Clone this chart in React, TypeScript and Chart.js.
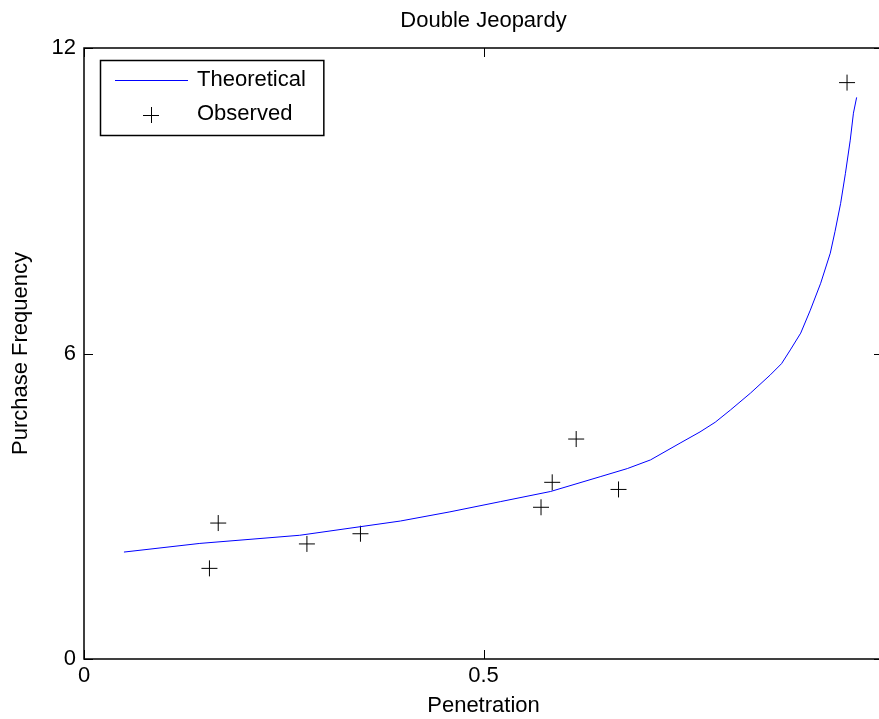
import React, { useEffect, useRef } from "react";
import { Chart, registerables } from "chart.js";

Chart.register(...registerables);

const TITLE = "Double Jeopardy";
const X_LABEL = "Penetration";
const Y_LABEL = "Purchase Frequency";
const SERIES_NAMES = ["Theoretical", "Observed"];

const X_TICKS = [0, 0.5, 1];
const X_TICK_LABELS = ["0", "0.5", ""];
const Y_TICKS = [0, 6, 12];
const Y_TICK_LABELS = ["0", "6", "12"];

const theoreticalX = [0.05, 0.145, 0.27, 0.396, 0.458, 0.521, 0.584, 0.646, 0.68, 0.709, 0.746, 0.771, 0.79, 0.809, 0.834, 0.859, 0.873, 0.884, 0.897, 0.909, 0.922, 0.934, 0.94, 0.947, 0.953, 0.959, 0.963, 0.967];
const theoreticalY = [2.1, 2.27, 2.43, 2.71, 2.89, 3.09, 3.29, 3.58, 3.74, 3.91, 4.24, 4.46, 4.65, 4.89, 5.22, 5.58, 5.8, 6.07, 6.4, 6.85, 7.38, 7.97, 8.4, 8.95, 9.54, 10.19, 10.72, 11.03];

const observedX = [0.157, 0.168, 0.279, 0.346, 0.572, 0.586, 0.616, 0.669, 0.955];
const observedY = [1.78, 2.67, 2.26, 2.46, 2.98, 3.47, 4.32, 3.33, 11.32];

const FONT_FAMILY = "'Liberation Sans', Arial, Helvetica, sans-serif";
const FONT_SIZE = 22;
const CANVAS_W = 900;
const CANVAS_H = 719;
const PAD_RIGHT = 17;

const framePlugin = {
  id: "frame",
  afterDatasetsDraw(chart: any) {
    const { ctx, chartArea: a } = chart;
    const xs = chart.scales.x;
    const ys = chart.scales.y;
    const tl = 9;
    ctx.save();
    ctx.strokeStyle = "#000";
    ctx.lineWidth = 1.5;
    ctx.strokeRect(a.left, a.top, a.right - a.left, a.bottom - a.top);
    ctx.lineWidth = 1;
    ctx.beginPath();
    for (const t of xs.ticks) {
      const px = Math.round(xs.getPixelForValue(t.value)) + 0.5;
      ctx.moveTo(px, a.bottom);
      ctx.lineTo(px, a.bottom - tl);
      ctx.moveTo(px, a.top);
      ctx.lineTo(px, a.top + tl);
    }
    for (const t of ys.ticks) {
      const py = Math.round(ys.getPixelForValue(t.value)) + 0.5;
      ctx.moveTo(a.left, py);
      ctx.lineTo(a.left + tl, py);
      ctx.moveTo(a.right, py);
      ctx.lineTo(a.right - tl, py);
    }
    ctx.stroke();

    // legend
    ctx.font = `${FONT_SIZE}px ${FONT_FAMILY}`;
    const textX = 197;
    const w = Math.max(...SERIES_NAMES.map((n) => ctx.measureText(n).width));
    const bx = 100.5;
    const by = 60.5;
    const bw = textX + w + 18 - bx;
    const bh = 75;
    ctx.fillStyle = "#fff";
    ctx.fillRect(bx, by, bw, bh);
    ctx.strokeStyle = "#000";
    ctx.lineWidth = 1.5;
    ctx.strokeRect(bx, by, bw, bh);
    ctx.strokeStyle = "#0000ff";
    ctx.lineWidth = 1;
    ctx.beginPath();
    ctx.moveTo(115, 80.5);
    ctx.lineTo(188, 80.5);
    ctx.stroke();
    ctx.strokeStyle = "#000";
    ctx.beginPath();
    ctx.moveTo(143, 115.5);
    ctx.lineTo(159, 115.5);
    ctx.moveTo(151.5, 107);
    ctx.lineTo(151.5, 123);
    ctx.stroke();
    ctx.fillStyle = "#000";
    ctx.textBaseline = "middle";
    ctx.textAlign = "left";
    ctx.fillText(SERIES_NAMES[0], textX, 80);
    ctx.fillText(SERIES_NAMES[1], textX, 114);
    ctx.restore();
  },
};

export default function App() {
  const ref = useRef<HTMLCanvasElement | null>(null);

  useEffect(() => {
    if (!ref.current) return;
    Chart.defaults.color = "#000";
    Chart.defaults.font.family = FONT_FAMILY;
    Chart.defaults.font.size = FONT_SIZE;
    const chart = new Chart(ref.current, {
      type: "scatter",
      data: {
        datasets: [
          {
            label: SERIES_NAMES[0],
            data: theoreticalX.map((x, i) => ({ x, y: theoreticalY[i] })),
            showLine: true,
            borderColor: "#0000ff",
            borderWidth: 1,
            pointRadius: 0,
            tension: 0,
          },
          {
            label: SERIES_NAMES[1],
            data: observedX.map((x, i) => ({ x, y: observedY[i] })),
            showLine: false,
            pointStyle: "cross",
            pointRadius: 8,
            borderColor: "#000",
            backgroundColor: "#000",
            borderWidth: 1,
          },
        ],
      },
      options: {
        responsive: false,
        animation: false,
        devicePixelRatio: 1,
        layout: { padding: { left: 0, right: PAD_RIGHT, top: 0, bottom: 0 } },
        plugins: {
          legend: { display: false },
          tooltip: { enabled: false },
          title: {
            display: true,
            text: TITLE,
            fullSize: false,
            color: "#000",
            font: { size: FONT_SIZE, weight: "normal", family: FONT_FAMILY },
            padding: { top: 8, bottom: 13.6 },
          },
        },
        scales: {
          x: {
            type: "linear",
            min: X_TICKS[0],
            max: X_TICKS[X_TICKS.length - 1],
            afterBuildTicks: (s: any) => {
              s.ticks = X_TICKS.map((v) => ({ value: v }));
            },
            afterFit: (s: any) => {
              s.height = 60;
            },
            grid: { display: false, drawTicks: false },
            border: { display: false },
            ticks: {
              padding: 4,
              color: "#000",
              maxRotation: 0,
              callback: (_v: any, i: number) => X_TICK_LABELS[i],
            },
            title: {
              display: true,
              text: X_LABEL,
              color: "#000",
              padding: { top: 0, bottom: 0 },
            },
          },
          y: {
            type: "linear",
            min: Y_TICKS[0],
            max: Y_TICKS[Y_TICKS.length - 1],
            afterBuildTicks: (s: any) => {
              s.ticks = Y_TICKS.map((v) => ({ value: v }));
            },
            afterFit: (s: any) => {
              s.width = 84;
            },
            grid: { display: false, drawTicks: false },
            border: { display: false },
            ticks: {
              padding: 8,
              color: "#000",
              callback: (_v: any, i: number) => Y_TICK_LABELS[i],
            },
            title: {
              display: true,
              text: Y_LABEL,
              color: "#000",
              padding: { top: 8, bottom: 0 },
            },
          },
        },
      },
      plugins: [framePlugin],
    } as any);
    return () => chart.destroy();
  }, []);

  return (
    <div
      style={{
        position: "fixed",
        left: 0,
        top: 0,
        width: 879,
        height: 719,
        overflow: "hidden",
        background: "#fff",
      }}
    >
      <canvas
        ref={ref}
        width={CANVAS_W}
        height={CANVAS_H}
        style={{ display: "block", width: CANVAS_W, height: CANVAS_H }}
      />
    </div>
  );
}
